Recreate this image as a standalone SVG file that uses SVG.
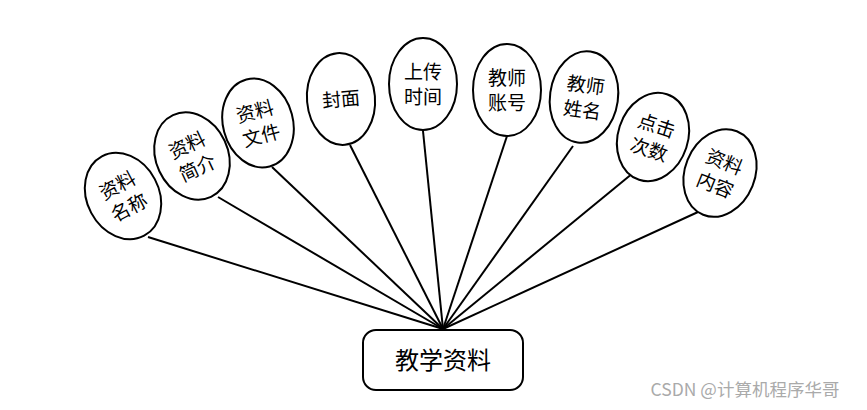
<svg xmlns="http://www.w3.org/2000/svg" width="867" height="410" viewBox="0 0 867 410">
<style>
.e{fill:#fff;stroke:#000;stroke-width:2}
.t{font-family:"Noto Sans CJK SC","Liberation Serif",serif;font-size:19px;fill:#000;text-anchor:middle}
.c{stroke:#000;stroke-width:2;fill:none}
</style>
<rect width="867" height="410" fill="#fff"/>
<g id="connectors">
<line class="c" x1="148" y1="237" x2="443" y2="329"/>
<line class="c" x1="218" y1="197" x2="443" y2="329"/>
<line class="c" x1="272" y1="167" x2="443" y2="329"/>
<line class="c" x1="350" y1="145" x2="443" y2="329"/>
<line class="c" x1="423" y1="131" x2="443" y2="329"/>
<line class="c" x1="507" y1="136" x2="443" y2="329"/>
<line class="c" x1="573" y1="146" x2="443" y2="329"/>
<line class="c" x1="633" y1="173" x2="443" y2="329"/>
<line class="c" x1="698" y1="212" x2="443" y2="329"/>
</g>
<g id="n1" transform="translate(123,196) rotate(-28)"><ellipse class="e" rx="36" ry="45"/><text class="t"><tspan x="0" y="-5">资料</tspan><tspan x="0" y="20">名称</tspan></text></g>
<g id="n2" transform="translate(192,156) rotate(-25)"><ellipse class="e" rx="36" ry="45"/><text class="t"><tspan x="0" y="-5">资料</tspan><tspan x="0" y="20">简介</tspan></text></g>
<g id="n3" transform="translate(258,123) rotate(-15)"><ellipse class="e" rx="35" ry="45"/><text class="t"><tspan x="0" y="-5">资料</tspan><tspan x="0" y="20">文件</tspan></text></g>
<g id="n4" transform="translate(341,99) rotate(-5)"><ellipse class="e" rx="34" ry="46"/><text class="t"><tspan x="0" y="7">封面</tspan></text></g>
<g id="n5" transform="translate(423,84)"><ellipse class="e" rx="34" ry="46"/><text class="t"><tspan x="0" y="-5">上传</tspan><tspan x="0" y="20">时间</tspan></text></g>
<g id="n6" transform="translate(507,90)"><ellipse class="e" rx="34" ry="46"/><text class="t"><tspan x="0" y="-5">教师</tspan><tspan x="0" y="20">账号</tspan></text></g>
<g id="n7" transform="translate(584,97) rotate(8)"><ellipse class="e" rx="34" ry="46"/><text class="t"><tspan x="0" y="-5">教师</tspan><tspan x="0" y="20">姓名</tspan></text></g>
<g id="n8" transform="translate(653,137) rotate(18)"><ellipse class="e" rx="35" ry="45"/><text class="t"><tspan x="0" y="-5">点击</tspan><tspan x="0" y="20">次数</tspan></text></g>
<g id="n9" transform="translate(720,173) rotate(22)"><ellipse class="e" rx="35" ry="45"/><text class="t"><tspan x="0" y="-5">资料</tspan><tspan x="0" y="20">内容</tspan></text></g>
<g id="center"><rect x="363" y="330" width="160" height="60" rx="13" fill="#fff" stroke="#000" stroke-width="2"/><text x="443" y="369" font-family="Noto Sans CJK SC,Liberation Serif,serif" font-size="24" text-anchor="middle" fill="#000">教学资料</text></g>
<text x="745" y="396" font-family="Noto Sans CJK SC,Liberation Sans,sans-serif" font-size="17.5" text-anchor="middle" fill="#aaa">CSDN @计算机程序华哥</text>
</svg>
